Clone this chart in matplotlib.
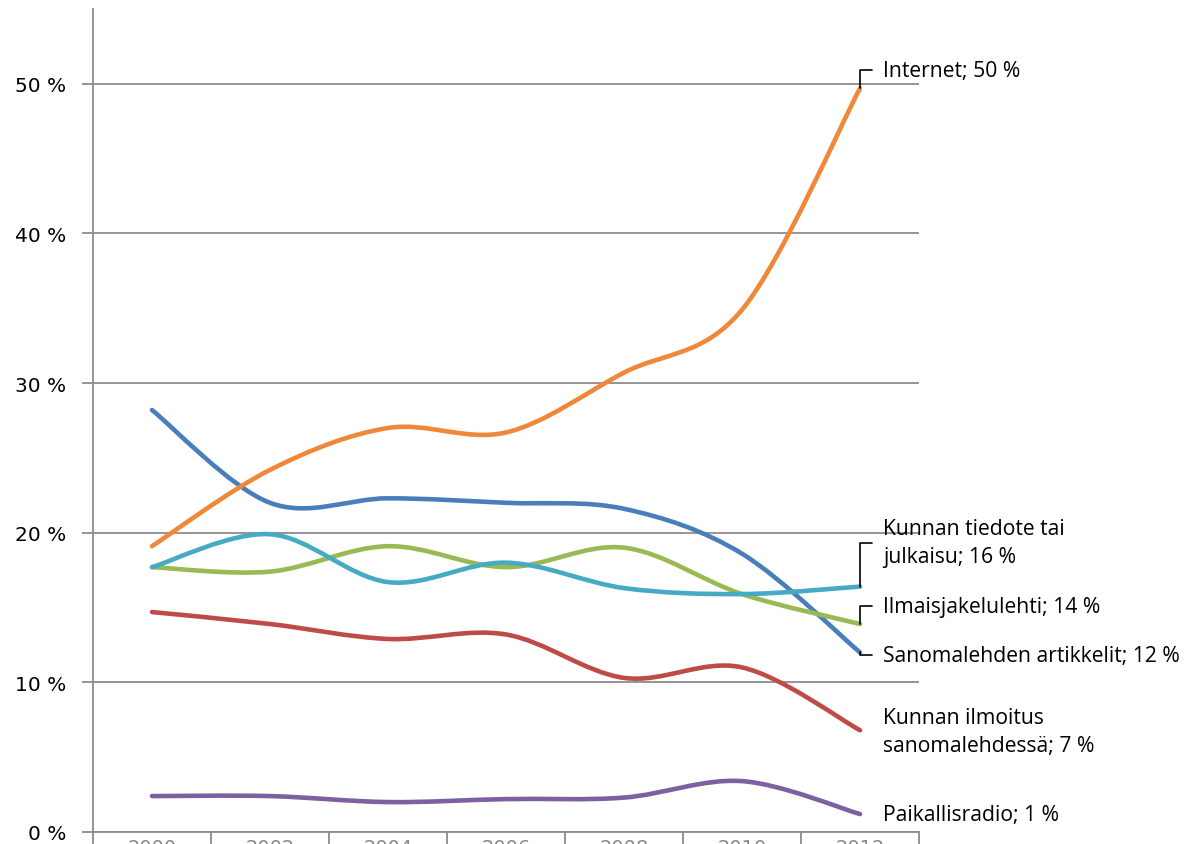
import numpy as np
import matplotlib.pyplot as plt
from matplotlib.path import Path
from matplotlib.patches import PathPatch

# survey years (labels are cut off at the bottom of the original)
years = ["2000", "2002", "2004", "2006", "2008", "2010", "2012"]

names = [
    "Sanomalehden artikkelit",
    "Kunnan ilmoitus\nsanomalehdessä",
    "Ilmaisjakelulehti",
    "Paikallisradio",
    "Kunnan tiedote tai\njulkaisu",
    "Internet",
]
sanomalehti = [28.2, 22.0, 22.3, 22.0, 21.6, 18.6, 12.0]
ilmoitus = [14.7, 13.9, 12.9, 13.2, 10.3, 11.0, 6.8]
ilmaisjakelu = [17.7, 17.4, 19.1, 17.7, 19.0, 15.9, 13.9]
radio = [2.4, 2.4, 2.0, 2.2, 2.3, 3.4, 1.2]
tiedote = [17.7, 19.9, 16.7, 18.0, 16.3, 15.9, 16.4]
internet = [19.1, 24.2, 27.0, 26.7, 30.7, 34.9, 49.7]
series = [sanomalehti, ilmoitus, ilmaisjakelu, radio, tiedote, internet]

colors = ["#4A7EBB", "#BE4B48", "#98B954", "#7D60A0", "#46AAC5", "#F0883A"]
# label offsets in pixels from the last point, and whether a leader line is drawn
label_offsets = [(23, -3), (23, -1), (23, 18), (23, 0), (23, 44), (23, 18)]
leaders = [True, False, True, False, True, True]


def smooth_path(x, y):
    # Excel-style smoothed line: cubic Bezier through each point
    pts = np.column_stack([x, y]).astype(float)
    ext = np.vstack([pts[0], pts, pts[-1]])
    verts = [pts[0]]
    codes = [Path.MOVETO]
    for i in range(1, len(ext) - 2):
        p0, p1, p2, p3 = ext[i - 1], ext[i], ext[i + 1], ext[i + 2]
        c1 = p1 + (p2 - p0) / 6
        c2 = p2 - (p3 - p1) / 6
        verts += [c1, c2, p2]
        codes += [Path.CURVE4] * 3
    return Path(verts, codes)


fig = plt.figure(figsize=(11.92, 8.45), dpi=100)
ax = fig.add_axes([93 / 1192, 12 / 845, 826 / 1192, 823 / 845])

x = np.arange(len(years))
grid_col = "#8C8C8C"

for vals, col in zip(series, colors):
    patch = PathPatch(smooth_path(x, vals), facecolor="none", edgecolor=col,
                      lw=3.3, capstyle="round", joinstyle="round", zorder=3)
    ax.add_patch(patch)

for name, vals, col, off, lead in zip(names, series, colors, label_offsets, leaders):
    text = f"{name}; {round(vals[-1])} %"
    arrow = None
    if lead:
        arrow = dict(arrowstyle="-", color="black", lw=1.2,
                     connectionstyle="angle,angleA=0,angleB=90,rad=0",
                     relpos=(0, 0.5), shrinkA=6, shrinkB=0)
    ax.annotate(text, xy=(x[-1], vals[-1]), xytext=off,
                textcoords="offset pixels", ha="left", va="center",
                fontsize=15.2, family="Open Sans", linespacing=1.45,
                arrowprops=arrow, annotation_clip=False, zorder=4)

ax.set_xlim(-0.5, len(years) - 0.5)
ax.set_ylim(0, 55)
ax.set_yticks([0, 10, 20, 30, 40, 50])
ax.set_yticklabels([f"{v} %" for v in [0, 10, 20, 30, 40, 50]])
ax.yaxis.grid(True, color=grid_col, lw=1.3)
ax.set_axisbelow(True)

ax.set_xticks(x)
ax.set_xticklabels(years)
ax.set_xticks(np.arange(len(years) + 1) - 0.5, minor=True)
ax.tick_params(axis="x", which="major", length=0, pad=4.5, labelsize=14, labelcolor="#888888")
ax.tick_params(axis="x", which="minor", length=12, color=grid_col, width=1.3)
ax.tick_params(axis="y", length=8, color=grid_col, width=1.3, pad=11,
               labelsize=14.5, labelcolor="black")

for s in ["top", "right"]:
    ax.spines[s].set_visible(False)
for s in ["left", "bottom"]:
    ax.spines[s].set_color(grid_col)
    ax.spines[s].set_linewidth(1.3)

fig.savefig("out.png", dpi=100)
